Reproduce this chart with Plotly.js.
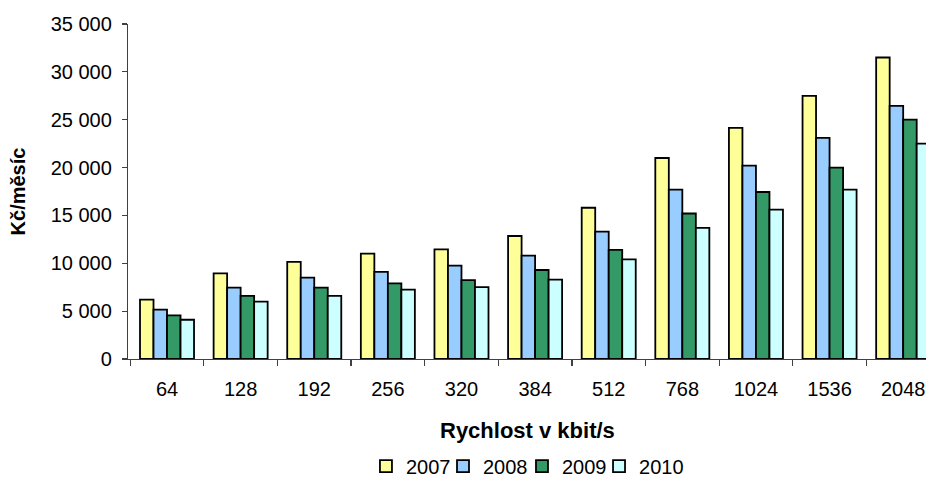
<!DOCTYPE html>
<html>
<head>
<meta charset="utf-8">
<script src="https://cdn.plot.ly/plotly-3.0.1.min.js"></script>
<style>html,body{margin:0;padding:0;background:#fff;}#chart{width:926px;height:478px;}</style>
</head>
<body>
<div id="chart"></div>
<script>
const categories = ['64','128','192','256','320','384','512','768','1024','1536','2048'];
const years = ['2007','2008','2009','2010'];
const v2007 = [6200, 8950, 10150, 11000, 11450, 12850, 15800, 21000, 24150, 27500, 31500];
const v2008 = [5150, 7450, 8500, 9100, 9750, 10800, 13300, 17700, 20200, 23100, 26450];
const v2009 = [4550, 6600, 7450, 7900, 8250, 9300, 11400, 15200, 17450, 20000, 25000];
const v2010 = [4100, 6000, 6600, 7250, 7500, 8300, 10400, 13700, 15600, 17700, 22500];
const colors = ['#FFFF99', '#99CCFF', '#339966', '#CCFFFF'];
const series = [v2007, v2008, v2009, v2010];
const legendIds = ['legend', 'legend2', 'legend3', 'legend4'];
const legendX = [0.3952, 0.4784, 0.5637, 0.6469];

const traces = series.map((vals, i) => ({
  type: 'bar',
  name: years[i],
  x: categories,
  y: vals,
  legend: legendIds[i],
  marker: {color: colors[i], line: {color: '#000', width: 1.8}},
  hoverinfo: 'none'
}));

const font = {family: 'Liberation Sans, Arial, sans-serif', color: '#000'};

const layout = {
  width: 926, height: 478,
  margin: {l: 128, r: 0, t: 24, b: 119, autoexpand: false},
  paper_bgcolor: '#fff', plot_bgcolor: '#fff',
  barmode: 'group', bargap: 0.266, bargroupgap: 0,
  separators: ', ',
  font: Object.assign({size: 20}, font),
  showlegend: true,
  annotations: [{
    text: '<b>Rychlost v kbit/s</b>', xref: 'paper', yref: 'paper',
    x: 0.5, y: -0.212, xanchor: 'center', yanchor: 'middle', showarrow: false,
    font: Object.assign({size: 22}, font)
  }],
  xaxis: {
    type: 'category', range: [-0.53, 10.31], automargin: false,
    showline: true, linecolor: '#404040', linewidth: 1.2,
    ticks: 'outside', tickson: 'boundaries', ticklen: 6, tickcolor: '#404040', tickwidth: 1.2,
    ticklabelstandoff: 12,
    tickfont: Object.assign({size: 20}, font),
    showgrid: false, zeroline: false, fixedrange: true
  },
  yaxis: {
    range: [0, 35000], tickvals: [0,5000,10000,15000,20000,25000,30000,35000],
    tickformat: ',d', automargin: false,
    showline: true, linecolor: '#404040', linewidth: 1.2,
    ticks: 'outside', ticklen: 5, tickcolor: '#404040', tickwidth: 1.2,
    ticklabelstandoff: 6,
    tickfont: Object.assign({size: 20}, font),
    showgrid: false, zeroline: false, fixedrange: true,
    title: {text: '<b>Kč/měsíc</b>', font: Object.assign({size: 20}, font), standoff: 19}
  }
};

legendIds.forEach((id, i) => {
  layout[id] = {
    orientation: 'h', xref: 'container', yref: 'container',
    x: legendX[i], xanchor: 'left', y: 0.025, yanchor: 'middle',
    font: Object.assign({size: 20}, font), itemwidth: 30,
    bgcolor: 'rgba(0,0,0,0)'
  };
});

Plotly.newPlot('chart', traces, layout, {displayModeBar: false, staticPlot: true});
</script>
</body>
</html>
